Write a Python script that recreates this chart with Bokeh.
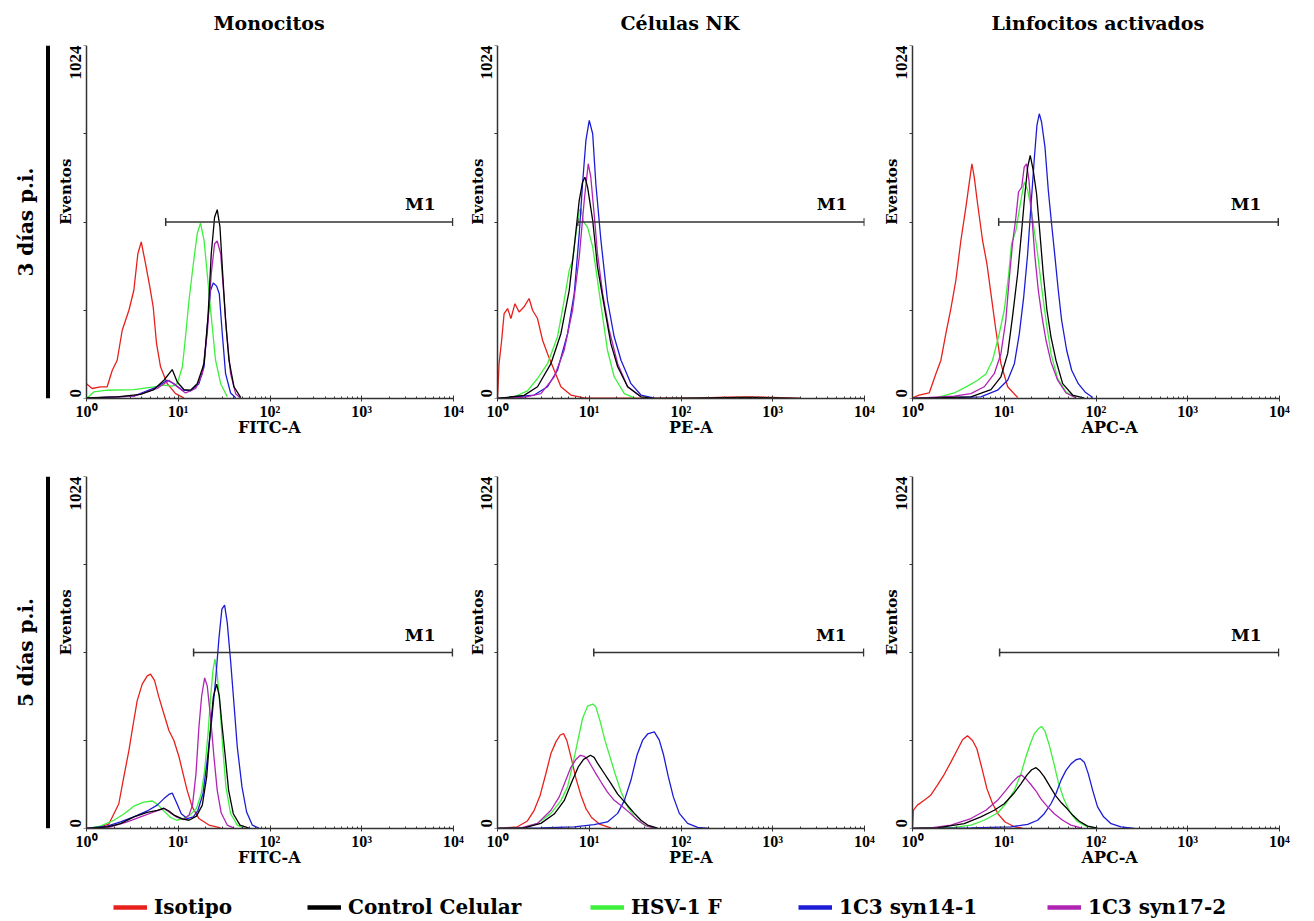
import math
from bokeh.plotting import figure
from bokeh.layouts import row, column
from bokeh.models import Range1d, Label, Span, Legend, LegendItem, FixedTicker, Title
from bokeh.embed import file_html
from bokeh.resources import INLINE

FONT = "DejaVu Serif"
NUM_FONT = "Liberation Serif"

# ---------------- labels / categories ----------------
series_names = ["Isotipo", "Control Celular", "HSV-1 F", "1C3 syn14-1", "1C3 syn17-2"]
series_colors = ["#e8201c", "#000000", "#3cf03c", "#1c1cd6", "#b024b4"]
col_titles = ["Monocitos", "Células NK", "Linfocitos activados"]
x_labels = ["FITC-A", "PE-A", "APC-A"]
row_labels = ["3 días p.i.", "5 días p.i."]
y_title = "Eventos"
x_min = 1
x_max = 10000
x_tick_values = [1, 10, 100, 1000, 10000]
x_tick_labels = ["10⁰", "10¹", "10²", "10³", "10⁴"]
y_tick_values = [0, 256, 512, 768, 1024]
y_min = 0
y_max = 1024
m1_level = 512
m1_start = [7.3, 7.5, 8.7, 14.7, 11.2, 8.9]
m1_end = [9800, 9950, 9700, 9750, 9800, 9800]

# ---------------- 3 días: Monocitos (FITC-A) ----------------
mono3_iso_x = [1.0, 1.15, 1.42, 1.68, 1.91, 2.16, 2.45, 2.90, 3.28, 3.63, 3.95, 4.40, 4.90, 5.33, 5.80, 6.41, 7.59, 9.35, 11.5]
mono3_iso_y = [43, 29, 34, 34, 82, 111, 198, 256, 314, 420, 454, 391, 324, 266, 159, 92, 43, 14, 2]
mono3_ctrl_x = [1.0, 2.16, 3.88, 5.43, 6.98, 8.60, 9.75, 11.5, 13.6, 16.1, 19.1, 21.1, 22.9, 24.9, 26.6, 28.5, 30.5, 32.8, 35.7, 40.5, 47.9]
mono3_ctrl_y = [2, 5, 12, 26, 53, 84, 48, 26, 24, 43, 101, 237, 420, 526, 548, 497, 362, 227, 111, 34, 3]
mono3_hsv_x = [1.0, 1.20, 1.68, 3.28, 5.43, 6.98, 8.60, 9.75, 11.1, 12.0, 13.1, 14.6, 16.1, 17.5, 19.1, 20.7, 22.9, 25.5, 29.0, 34.2]
mono3_hsv_y = [0, 19, 24, 26, 34, 39, 36, 43, 92, 179, 285, 391, 478, 509, 459, 362, 237, 111, 43, 5]
mono3_s14_x = [1.0, 3.28, 5.90, 7.59, 8.97, 11.1, 13.6, 16.8, 19.1, 20.7, 22.5, 24.1, 26.2, 28.0, 30.2, 32.8, 37.2, 42.2]
mono3_s14_y = [1, 7, 34, 53, 43, 24, 22, 43, 92, 208, 314, 335, 326, 304, 188, 72, 16, 2]
mono3_s17_x = [1.0, 3.28, 5.90, 7.91, 9.75, 12.0, 15.5, 18.3, 20.7, 22.9, 24.9, 26.6, 29.0, 30.9, 33.7, 37.2, 42.2, 47.9]
mono3_s17_y = [1, 7, 29, 53, 34, 16, 29, 72, 188, 362, 449, 457, 420, 324, 188, 72, 14, 1]

# ---------------- 3 días: Células NK (PE-A) ----------------
nk3_iso_x = [1.0, 1.04, 1.11, 1.18, 1.29, 1.40, 1.55, 1.72, 1.95, 2.21, 2.41, 2.73, 3.10, 3.51, 4.15, 4.91, 6.31, 8.82, 150, 300, 600, 1000, 2000]
nk3_iso_y = [0, 101, 169, 246, 261, 232, 275, 251, 266, 290, 256, 232, 169, 130, 82, 34, 10, 2, 1, 4, 5, 3, 0]
nk3_ctrl_x = [1.0, 1.95, 2.73, 3.82, 4.91, 6.05, 6.86, 7.78, 8.45, 8.97, 9.59, 10.9, 12.3, 14.6, 17.2, 20.4, 26.2, 36.6, 50, 200, 500, 1000, 2000]
nk3_ctrl_y = [0, 9, 34, 101, 188, 314, 440, 575, 628, 642, 613, 517, 382, 266, 159, 92, 34, 5, 0, 2, 3, 2, 0]
nk3_hsv_x = [1.0, 1.52, 2.12, 2.73, 3.51, 4.51, 5.33, 6.05, 6.58, 7.16, 7.78, 8.11, 8.67, 9.59, 10.9, 12.3, 14.0, 15.8, 18.7, 24.1, 31.0]
nk3_hsv_y = [0, 5, 22, 58, 101, 179, 285, 372, 401, 478, 546, 551, 512, 497, 440, 343, 237, 140, 63, 14, 2]
nk3_s14_x = [1.0, 2.51, 3.51, 4.51, 5.80, 6.86, 7.78, 8.45, 9.20, 10.0, 10.9, 11.8, 13.4, 15.8, 18.7, 22.2, 28.5, 36.6, 51.2]
nk3_s14_y = [0, 10, 34, 82, 188, 304, 478, 623, 749, 807, 768, 623, 459, 285, 179, 111, 43, 10, 1]
nk3_s17_x = [1.0, 2.0, 2.97, 4.15, 5.33, 6.58, 7.78, 8.82, 9.75, 10.4, 11.3, 12.3, 14.0, 16.5, 20.4, 26.2, 36.6]
nk3_s17_y = [0, 4, 14, 63, 140, 256, 411, 575, 681, 642, 536, 420, 304, 198, 101, 34, 5]

# ---------------- 3 días: Linfocitos activados (APC-A) ----------------
lin3_iso_x = [1.0, 1.18, 1.52, 1.80, 2.04, 2.31, 2.62, 2.97, 3.37, 3.82, 4.19, 4.44, 4.71, 5.12, 5.80, 6.47, 7.16, 8.11, 9.20, 10.9, 14.0]
lin3_iso_y = [2, 10, 16, 72, 111, 188, 261, 343, 459, 555, 633, 681, 642, 565, 459, 391, 304, 198, 101, 34, 3]
lin3_ctrl_x = [1.0, 4.33, 7.16, 9.20, 10.9, 12.3, 14.0, 15.5, 16.8, 18.0, 19.2, 20.7, 22.5, 24.5, 26.6, 29.2, 32.3, 36.6, 43.3, 55.6, 74.6]
lin3_ctrl_y = [0, 5, 26, 63, 130, 237, 362, 488, 594, 671, 705, 662, 594, 478, 362, 256, 179, 111, 43, 10, 1]
lin3_hsv_x = [1.0, 1.87, 2.85, 3.98, 5.12, 6.31, 7.46, 8.82, 10.0, 11.1, 12.0, 13.4, 15.0, 16.5, 18.0, 19.5, 21.2, 23.1, 25.5, 28.5, 32.3, 38.2, 47.1, 60.5]
lin3_hsv_y = [0, 3, 16, 36, 53, 71, 111, 188, 256, 353, 449, 488, 565, 628, 604, 555, 488, 420, 324, 227, 130, 58, 19, 3]
lin3_s14_x = [1.0, 5.56, 8.45, 10.9, 12.9, 14.6, 16.3, 18.0, 19.5, 21.2, 22.7, 24.1, 25.5, 27.8, 30.2, 32.8, 35.7, 38.8, 42.2, 47.9, 54.3, 64.1, 75.9, 92.0]
lin3_s14_y = [0, 5, 24, 53, 101, 188, 295, 420, 555, 691, 792, 826, 802, 729, 604, 507, 411, 314, 227, 140, 82, 43, 19, 3]
lin3_s17_x = [1.0, 2.85, 4.33, 6.05, 7.78, 9.20, 10.4, 11.3, 12.3, 13.4, 14.3, 15.5, 16.5, 17.5, 18.6, 19.9, 21.6, 23.5, 25.8, 28.5, 32.3, 38.2, 47.1, 60.5]
lin3_s17_y = [0, 7, 14, 34, 72, 130, 227, 343, 449, 526, 599, 613, 671, 681, 633, 536, 411, 314, 237, 169, 106, 53, 16, 2]

# ---------------- 5 días: Monocitos (FITC-A) ----------------
mono5_iso_x = [1.0, 1.42, 1.75, 1.99, 2.25, 2.55, 2.90, 3.23, 3.57, 4.05, 4.59, 4.99, 5.52, 6.15, 6.98, 7.91, 8.97, 10.2, 11.3, 12.5, 14.2, 16.8, 21.6, 29.0]
mono5_iso_y = [0, 5, 13, 43, 72, 150, 227, 304, 372, 420, 444, 449, 430, 382, 333, 285, 256, 208, 159, 111, 63, 29, 10, 2]
mono5_ctrl_x = [1.0, 1.68, 2.35, 3.28, 4.59, 5.90, 6.98, 7.91, 9.12, 11.1, 13.1, 15.8, 18.3, 20.4, 22.2, 24.1, 26.2, 28.0, 29.9, 32.6, 35.4, 39.8, 47.1, 59.0]
mono5_ctrl_y = [0, 5, 14, 34, 47, 53, 59, 51, 38, 28, 24, 36, 68, 150, 275, 382, 420, 386, 304, 208, 111, 43, 10, 1]
mono5_hsv_x = [1.0, 1.42, 1.99, 2.55, 3.28, 4.22, 5.20, 5.90, 6.98, 8.25, 9.59, 11.3, 13.4, 15.8, 17.8, 19.4, 21.1, 22.5, 23.9, 25.1, 26.6, 28.5, 30.5, 33.1, 37.2, 44.0, 52.0]
mono5_hsv_y = [0, 7, 24, 42, 65, 77, 80, 71, 51, 32, 24, 29, 39, 58, 101, 169, 275, 382, 459, 493, 449, 353, 237, 121, 43, 10, 1]
mono5_s14_x = [1.0, 1.68, 2.35, 3.28, 4.59, 5.90, 6.98, 7.91, 8.60, 9.51, 10.8, 12.5, 14.6, 16.4, 18.6, 20.7, 23.1, 25.5, 27.8, 29.9, 32.0, 34.2, 37.2, 40.5, 44.0, 49.5, 55.6, 64.1, 75.9]
mono5_s14_y = [0, 7, 19, 34, 51, 68, 87, 99, 103, 77, 43, 29, 34, 53, 101, 198, 314, 430, 555, 638, 650, 599, 488, 362, 237, 121, 48, 10, 1]
mono5_s17_x = [1.0, 1.83, 2.78, 3.88, 5.43, 6.98, 8.25, 9.75, 11.5, 13.1, 14.3, 15.6, 16.8, 18.0, 19.4, 20.7, 22.5, 24.5, 26.6, 29.4, 34.2, 40.5]
mono5_s17_y = [0, 5, 19, 34, 48, 58, 45, 32, 26, 39, 68, 159, 295, 386, 438, 415, 324, 208, 111, 45, 10, 1]

# ---------------- 5 días: Células NK (PE-A) ----------------
nk5_iso_x = [1.0, 1.65, 2.12, 2.51, 2.92, 3.37, 3.82, 4.33, 4.83, 5.25, 5.71, 6.31, 7.16, 8.11, 9.20, 10.6, 12.9, 17.2]
nk5_iso_y = [0, 5, 22, 53, 97, 160, 218, 252, 272, 276, 255, 209, 146, 97, 58, 32, 13, 2]
nk5_ctrl_x = [1.0, 1.95, 2.97, 4.15, 5.33, 6.58, 7.59, 8.67, 10.3, 11.3, 12.5, 14.6, 17.2, 20.4, 24.1, 27.3, 31.5, 36.6, 43.3, 55.6]
nk5_ctrl_y = [0, 2, 15, 42, 81, 141, 179, 201, 213, 207, 187, 160, 131, 100, 78, 61, 42, 24, 10, 1]
nk5_hsv_x = [1.0, 1.95, 2.73, 3.82, 4.91, 5.80, 6.58, 7.46, 8.45, 9.59, 10.9, 11.8, 13.2, 14.8, 16.8, 19.1, 22.2, 26.2, 31.5, 39.8, 53.4]
nk5_hsv_y = [0, 2, 15, 44, 81, 121, 184, 252, 320, 356, 362, 354, 310, 257, 209, 160, 107, 63, 32, 10, 1]
nk5_s14_x = [1.0, 2.97, 6.86, 11.3, 15.8, 20.4, 24.1, 28.5, 33.1, 38.2, 43.3, 51.2, 58.0, 64.7, 72.8, 82.5, 95.9, 118, 152, 204]
nk5_s14_y = [0, 2, 5, 11, 19, 44, 81, 141, 213, 257, 275, 281, 257, 213, 150, 92, 44, 15, 3, 0]
nk5_s17_x = [1.0, 1.80, 2.73, 3.82, 4.71, 5.56, 6.31, 7.16, 7.98, 8.82, 9.59, 10.6, 11.9, 13.6, 15.8, 18.7, 23.1, 28.0, 33.7, 41.5, 51.2]
nk5_s17_y = [0, 2, 15, 53, 92, 141, 178, 201, 213, 210, 201, 181, 158, 133, 106, 82, 63, 44, 24, 8, 1]

# ---------------- 5 días: Linfocitos activados (APC-A) ----------------
lin5_iso_x = [1.0, 1.02, 1.13, 1.34, 1.58, 1.87, 2.21, 2.62, 3.05, 3.51, 3.98, 4.51, 5.03, 5.66, 6.47, 7.46, 8.60, 10.2, 12.9, 15.8]
lin5_iso_y = [0, 53, 68, 82, 97, 126, 157, 193, 227, 258, 270, 256, 232, 179, 116, 72, 42, 19, 5, 1]
lin5_ctrl_x = [1.0, 1.87, 3.66, 5.56, 7.78, 10.0, 12.6, 15.2, 17.7, 19.9, 22.2, 24.1, 27.3, 31.7, 36.6, 42.2, 48.3, 55.6, 65.8, 81.1, 104]
lin5_ctrl_y = [0, 2, 14, 34, 53, 72, 101, 130, 156, 171, 177, 169, 150, 121, 94, 74, 58, 39, 21, 7, 1]
lin5_hsv_x = [1.0, 2.85, 4.33, 6.05, 8.45, 10.4, 12.9, 15.2, 17.2, 19.2, 21.2, 23.5, 25.5, 27.8, 30.7, 34.5, 38.8, 44.4, 52.0, 62.1, 77.8, 100]
lin5_hsv_y = [0, 3, 10, 24, 45, 72, 111, 159, 208, 246, 275, 290, 297, 283, 246, 193, 135, 87, 48, 21, 7, 1]
lin5_s14_x = [1.0, 4.33, 11.8, 18.0, 23.1, 27.3, 32.3, 36.6, 41.5, 47.1, 53.4, 60.5, 67.5, 74.6, 82.5, 92.0, 104, 121, 146, 187, 262]
lin5_s14_y = [0, 2, 5, 12, 24, 43, 72, 101, 140, 169, 188, 200, 203, 193, 159, 111, 63, 34, 14, 5, 0]
lin5_s17_x = [1.0, 1.58, 2.62, 4.33, 6.31, 8.45, 10.4, 12.3, 14.0, 15.5, 17.2, 19.5, 22.2, 25.1, 29.7, 35.1, 43.3, 53.4, 68.6]
lin5_s17_y = [0, 2, 10, 29, 53, 82, 111, 135, 150, 155, 145, 128, 109, 86, 63, 43, 24, 10, 2]

# order of series in each panel list: Isotipo, Control Celular, HSV-1 F, 1C3 syn14-1, 1C3 syn17-2
panel_data = [
    [(mono3_iso_x, mono3_iso_y), (mono3_ctrl_x, mono3_ctrl_y), (mono3_hsv_x, mono3_hsv_y), (mono3_s14_x, mono3_s14_y), (mono3_s17_x, mono3_s17_y)],
    [(nk3_iso_x, nk3_iso_y), (nk3_ctrl_x, nk3_ctrl_y), (nk3_hsv_x, nk3_hsv_y), (nk3_s14_x, nk3_s14_y), (nk3_s17_x, nk3_s17_y)],
    [(lin3_iso_x, lin3_iso_y), (lin3_ctrl_x, lin3_ctrl_y), (lin3_hsv_x, lin3_hsv_y), (lin3_s14_x, lin3_s14_y), (lin3_s17_x, lin3_s17_y)],
    [(mono5_iso_x, mono5_iso_y), (mono5_ctrl_x, mono5_ctrl_y), (mono5_hsv_x, mono5_hsv_y), (mono5_s14_x, mono5_s14_y), (mono5_s17_x, mono5_s17_y)],
    [(nk5_iso_x, nk5_iso_y), (nk5_ctrl_x, nk5_ctrl_y), (nk5_hsv_x, nk5_hsv_y), (nk5_s14_x, nk5_s14_y), (nk5_s17_x, nk5_s17_y)],
    [(lin5_iso_x, lin5_iso_y), (lin5_ctrl_x, lin5_ctrl_y), (lin5_hsv_x, lin5_hsv_y), (lin5_s14_x, lin5_s14_y), (lin5_s17_x, lin5_s17_y)],
]
draw_order = [0, 2, 3, 4, 1]

AXIS_COLOR = "#333333"

# layout geometry (pixels)
ROW_LABEL_W = 50
col_widths = [415, 413, 436]
col_left = [3, 3, 3]
col_right = [12, 14, 35]
axis_pad = [33, 29, 31]          # frame pixels left of the y-axis line (room for y texts)
data_px = 367                    # frame pixels from 10^0 to 10^4
eventos_off = [-21, -20, -21]
title_center = [182, 183, 185]   # title centre, pixels right of the y-axis line
title_width = [110, 120, 212]    # approximate rendered widths of the titles
xlab_center = [182, 193, 197]
xlab_width = [61, 43, 56]
row_heights = [445, 425]
row_top = [45, 31]
row_bottom = [47, 42]
bar_top = [28, 10]
bar_bottom = [23, 18]


def base_fig(**kw):
    p = figure(output_backend="svg", toolbar_location=None, **kw)
    p.outline_line_color = None
    p.grid.visible = False
    p.background_fill_color = "white"
    p.border_fill_color = "white"
    return p


def make_panel(idx):
    r, c = divmod(idx, 3)
    decades = math.log10(x_max / x_min)
    x_start = x_min * 10 ** (-decades * axis_pad[c] / data_px)
    p = base_fig(
        width=col_widths[c], height=row_heights[r],
        x_axis_type="log", x_range=Range1d(x_start, x_max), y_range=Range1d(y_min, y_max),
        min_border_left=col_left[c], min_border_right=col_right[c],
        min_border_top=row_top[r], min_border_bottom=row_bottom[r],
    )
    if r == 0:
        p.add_layout(Title(text=col_titles[c], align="left", vertical_align="top",
                           offset=axis_pad[c] + title_center[c] - title_width[c] / 2,
                           standoff=20, text_font=FONT, text_font_style="bold",
                           text_font_size="19px", text_color="black"), "above")

    # x axis
    xa = p.xaxis[0]
    xa.bounds = (x_min, x_max)
    xa.ticker = FixedTicker(ticks=x_tick_values,
                            minor_ticks=[m * 10 ** k for k in range(4) for m in range(2, 10)])
    xa.major_label_overrides = {v: l for v, l in zip(x_tick_values, x_tick_labels)}
    xa.major_label_text_font = NUM_FONT
    xa.major_label_text_font_style = "bold"
    xa.major_label_text_font_size = "16px"
    xa.major_label_text_line_height = 1.0
    xa.major_label_text_color = "black"
    xa.major_label_standoff = 1
    xa.axis_line_color = AXIS_COLOR
    xa.axis_line_width = 1.5
    xa.major_tick_line_color = AXIS_COLOR
    xa.minor_tick_line_color = AXIS_COLOR
    xa.major_tick_in = 3
    xa.major_tick_out = 3
    xa.minor_tick_in = 2
    xa.minor_tick_out = 0
    p.add_layout(Title(text=x_labels[c], align="left", vertical_align="top",
                       offset=axis_pad[c] + xlab_center[c] - xlab_width[c] / 2,
                       standoff=-10, text_font=FONT, text_font_style="bold",
                       text_font_size="16px", text_color="black"), "below")

    # y axis placed at x = 10^0; its texts are drawn as labels beside it
    ya = p.yaxis[0]
    ya.fixed_location = x_min
    ya.ticker = FixedTicker(ticks=y_tick_values, minor_ticks=[])
    ya.major_label_overrides = {v: "" for v in y_tick_values}
    ya.major_label_text_font_size = "0px"
    ya.major_label_standoff = 0
    ya.axis_line_color = AXIS_COLOR
    ya.axis_line_width = 1.5
    ya.major_tick_line_color = AXIS_COLOR
    ya.major_tick_in = 0
    ya.major_tick_out = 3

    p.add_layout(Label(x=x_min, y=y_max, x_offset=-11, text=str(y_max), angle=math.pi / 2,
                       text_align="right", text_baseline="middle", text_font=NUM_FONT,
                       text_font_style="bold", text_font_size="17px", text_color="black"))
    p.add_layout(Label(x=x_min, y=y_min, x_offset=-11, y_offset=1, text=str(y_min), angle=math.pi / 2,
                       text_align="left", text_baseline="middle", text_font=NUM_FONT,
                       text_font_style="bold", text_font_size="17px", text_color="black"))
    p.add_layout(Label(x=x_min, y=600, x_offset=eventos_off[c], text=y_title, angle=math.pi / 2,
                       text_align="center", text_baseline="middle", text_font=FONT,
                       text_font_style="bold", text_font_size="15px", text_color="black"))

    # histograms
    for s in draw_order:
        xs, ys = panel_data[idx][s]
        p.line(xs, ys, line_color=series_colors[s], line_width=1.3)

    # M1 gate
    p.segment(x0=[m1_start[idx]], y0=[m1_level], x1=[m1_end[idx]], y1=[m1_level],
              line_color=AXIS_COLOR, line_width=1.5)
    p.scatter(x=[m1_start[idx], m1_end[idx]], y=[m1_level, m1_level], marker="dash",
              angle=math.pi / 2, size=8, line_color=AXIS_COLOR, line_width=1.5)
    p.add_layout(Label(x=m1_end[idx], y=m1_level, x_offset=-17, y_offset=8, text="M1",
                       text_align="right", text_baseline="bottom", text_font=FONT,
                       text_font_style="bold", text_font_size="17px", text_color="black"))
    return p


def make_row_label(r):
    p = base_fig(width=ROW_LABEL_W, height=row_heights[r], x_range=Range1d(0, ROW_LABEL_W),
                 y_range=Range1d(0, 1), x_axis_location=None, y_axis_location=None,
                 min_border_left=0, min_border_right=0,
                 min_border_top=bar_top[r], min_border_bottom=bar_bottom[r])
    p.add_layout(Span(location=47.5, dimension="height", line_color="black", line_width=4))
    p.add_layout(Label(x=25, y=0.5, text=row_labels[r], angle=math.pi / 2,
                       text_align="center", text_baseline="middle", text_font=FONT,
                       text_font_style="bold", text_font_size="20px", text_color="black"))
    return p


rows = []
for r in range(2):
    items = [make_row_label(r)]
    for c in range(3):
        items.append(make_panel(r * 3 + c))
    rows.append(row(*items, spacing=0))

# legend strip
lg = base_fig(width=1314, height=51, x_range=Range1d(0, 1), y_range=Range1d(0, 1),
              x_axis_location=None, y_axis_location=None,
              min_border_left=0, min_border_right=0, min_border_top=0, min_border_bottom=0)
legend_x = [113, 307, 590, 798, 1047]
for name, colr, lx in zip(series_names, series_colors, legend_x):
    rr = lg.line(x=[float("nan")], y=[float("nan")], line_color=colr, line_width=4.5)
    leg = Legend(items=[LegendItem(label=name, renderers=[rr])], location=(lx, 2),
                 orientation="horizontal", glyph_width=34, glyph_height=24,
                 label_standoff=7, padding=0, margin=0, border_line_color=None,
                 background_fill_alpha=0, label_text_font=FONT,
                 label_text_font_style="bold", label_text_font_size="20px",
                 label_text_color="black")
    lg.add_layout(leg)

layout = column(rows[0], rows[1], lg, spacing=0)

with open("out.html", "w") as f:
    f.write(file_html(layout, INLINE))
